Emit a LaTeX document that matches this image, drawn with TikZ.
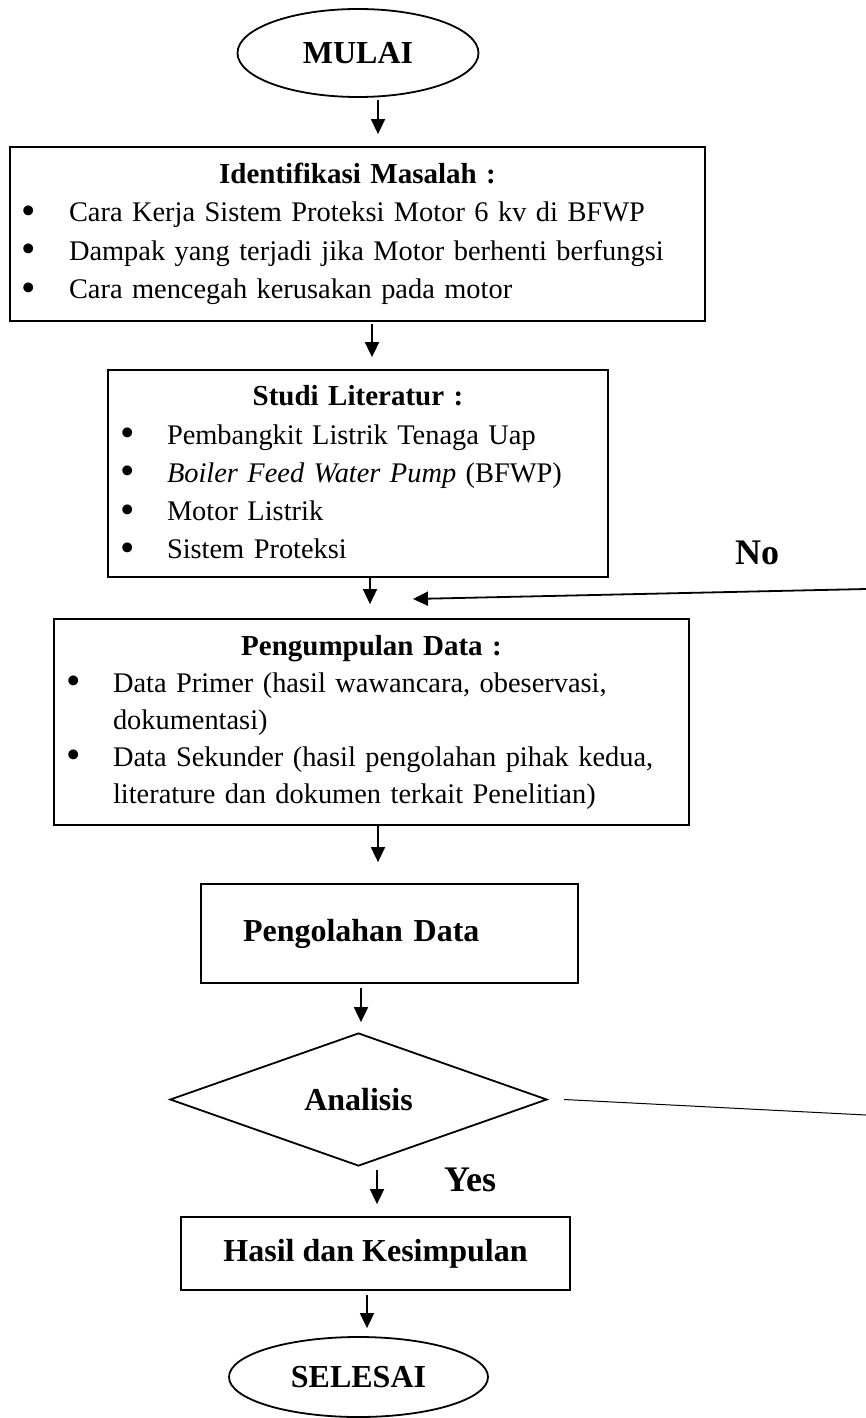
\documentclass[tikz,border=0pt]{standalone}
\usepackage{fontspec}
\setmainfont{Liberation Serif}
\usetikzlibrary{shapes.geometric,arrows.meta}
\newcommand{\bitem}[1]{\par\noindent\hangindent=59pt\hangafter=1\makebox[59pt][l]{\hspace{12pt}\raisebox{-2.5pt}{\scalebox{1.45}{\textbullet}}}#1\par}
\newcommand{\btitle}[1]{{\centering\fontsize{29pt}{38.3pt}\selectfont\bfseries #1\par}}
\tikzset{
  boxnode/.style={draw, line width=1.8pt, rectangle, inner xsep=0pt, inner ysep=0pt, align=left,
    font=\fontsize{28.4pt}{38.3pt}\selectfont},
  lblbox/.style={draw, line width=1.8pt, rectangle, inner sep=0pt,
    font=\fontsize{32pt}{38pt}\selectfont\bfseries},
  termnode/.style={draw, line width=1.8pt, ellipse, inner sep=0pt,
    font=\fontsize{32pt}{38pt}\selectfont\bfseries},
  decnode/.style={draw, line width=1.8pt, diamond, inner sep=0pt,
    font=\fontsize{32pt}{38pt}\selectfont\bfseries},
  yn/.style={inner sep=0pt, font=\fontsize{36pt}{40pt}\selectfont\bfseries},
  arr/.style={line width=1.8pt, -{Triangle[length=15pt,width=14pt]}},
  thinline/.style={line width=1pt}
}
\begin{document}
\begin{tikzpicture}[x=1pt,y=-1pt]
\path[fill=white,use as bounding box] (0,0) rectangle (866,1418);

\node[termnode, minimum width=241pt, minimum height=88pt] (mulai) at (358,53) {MULAI};

\node[boxnode, text width=695pt, minimum height=174pt] (b1) at (357.5,234) {%
\btitle{Identifikasi Masalah :}%
\bitem{Cara Kerja Sistem Proteksi Motor 6 kv di BFWP}%
\bitem{Dampak yang terjadi jika Motor berhenti berfungsi}%
\bitem{Cara mencegah kerusakan pada motor}};

\node[boxnode, text width=500pt, minimum height=207pt] (b2) at (358,473.5) {%
\btitle{Studi Literatur :}%
\bitem{Pembangkit Listrik Tenaga Uap}%
\bitem{\textit{Boiler Feed Water Pump} (BFWP)}%
\bitem{Motor Listrik}%
\bitem{Sistem Proteksi}};

\node[boxnode, text width=635pt, minimum height=206pt,
  font=\fontsize{28.4pt}{37pt}\selectfont] (b3) at (371.5,722) {%
\btitle{Pengumpulan Data :}%
\bitem{Data Primer (hasil wawancara, obeservasi,\newline dokumentasi)}%
\bitem{Data Sekunder (hasil pengolahan pihak kedua,\newline literature dan dokumen terkait Penelitian)}};

\node[lblbox, text width=293pt, inner xsep=42pt, align=left, minimum height=99pt] (b4) at (389.5,933.5) {Pengolahan Data};

\node[decnode, minimum width=377pt, minimum height=133pt] (dia) at (358.5,1099.5) {Analisis};

\node[lblbox, minimum width=389pt, minimum height=73pt] (b5) at (375.5,1253.5) {Hasil dan Kesimpulan};

\node[termnode, minimum width=259pt, minimum height=80pt] (selesai) at (358.5,1377) {SELESAI};

\node[yn] (no) at (757,553) {No};
\node[yn] (yes) at (470,1180) {Yes};

\coordinate (xa1) at (378,0);
\coordinate (xa2) at (372,0);
\coordinate (xa3) at (370,0);
\coordinate (xa4) at (378,0);
\coordinate (xa5) at (361,0);
\coordinate (xa6) at (377,0);
\coordinate (xa7) at (367,0);
\coordinate (nostart) at (866,589);
\coordinate (notip) at (413,599);
\coordinate (aend) at (866,1115);

\draw[arr, shorten <=2pt, shorten >=12pt] (xa1 |- mulai.south) -- (xa1 |- b1.north);
\draw[arr, shorten <=2pt, shorten >=12pt] (xa2 |- b1.south) -- (xa2 |- b2.north);
\draw[arr, shorten >=14pt] (xa3 |- b2.south) -- (xa3 |- b3.north);
\draw[arr, shorten >=21pt] (xa4 |- b3.south) -- (xa4 |- b4.north);
\draw[arr, shorten <=4pt, shorten >=10pt] (xa5 |- b4.south) -- (xa5 |- dia.north);
\draw[arr, shorten <=3pt, shorten >=12pt] (xa6 |- dia.south) -- (xa6 |- b5.north);
\draw[arr, shorten <=4pt, shorten >=8pt] (xa7 |- b5.south) -- (xa7 |- selesai.north);
\draw[arr] (nostart) -- (notip);
\draw[thinline] ([xshift=16pt]dia.east) -- (aend);
\end{tikzpicture}
\end{document}
